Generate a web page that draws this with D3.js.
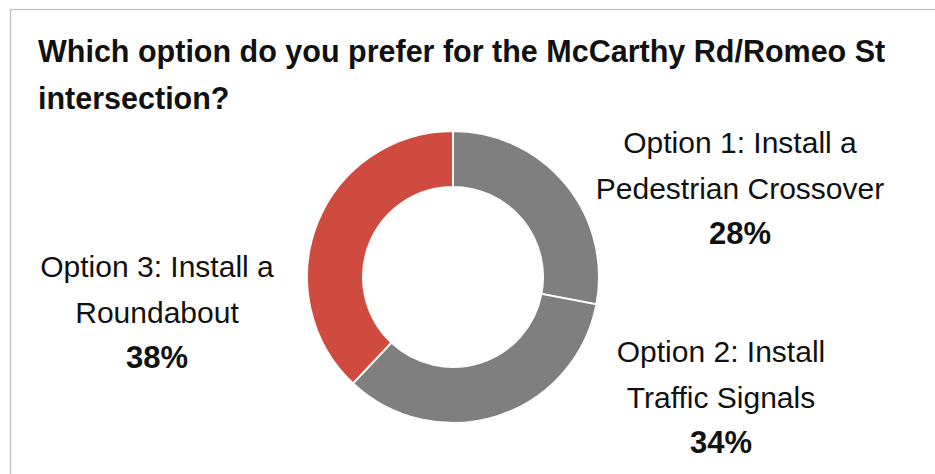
<!DOCTYPE html>
<html>
<head>
<meta charset="utf-8">
<script src="https://cdn.jsdelivr.net/npm/d3@7"></script>
<style>
  html, body { margin: 0; padding: 0; background: #fff; }
  svg { display: block; }
  text { font-family: "Liberation Sans", Arial, sans-serif; fill: #111; }
</style>
</head>
<body>
<svg id="chart" width="935" height="474"></svg>
<script>
const titleLines = ["Which option do you prefer for the McCarthy Rd/Romeo St", "intersection?"];
const categories = ["Option 1: Install a Pedestrian Crossover", "Option 2: Install Traffic Signals", "Option 3: Install a Roundabout"];
const labelLines = [["Option 1: Install a", "Pedestrian Crossover"], ["Option 2: Install", "Traffic Signals"], ["Option 3: Install a", "Roundabout"]];
const values = [28, 34, 38];
const colors = ["#7f7f7f", "#7f7f7f", "#cf4b3f"];

const svg = d3.select("#chart");
const W = 935, H = 474;

// frame
svg.append("rect").attr("x", 10.5).attr("y", 9.5).attr("width", W).attr("height", H)
  .attr("fill", "none").attr("stroke", "#bdbdbd").attr("stroke-width", 1.2);

// title
svg.append("g").selectAll("text").data(titleLines).join("text")
  .attr("x", 38).attr("y", (d, i) => 62 + i * 47)
  .attr("font-size", 30.5).attr("font-weight", "bold")
  .text(d => d);

// donut
const cx = 453, cy = 277, rOuter = 146, rInner = 90;
const pie = d3.pie().sort(null).value(d => d)(values);
const arc = d3.arc().innerRadius(rInner).outerRadius(rOuter);
const g = svg.append("g").attr("transform", `translate(${cx},${cy})`);
g.selectAll("path").data(pie).join("path")
  .attr("d", arc)
  .attr("fill", (d, i) => colors[i])
  .attr("stroke", "#fff").attr("stroke-width", 2);

// labels
const labelPos = [{x: 740, y: 153}, {x: 721, y: 362}, {x: 157, y: 277}];
const lineH = 45.5;
labelPos.forEach((p, i) => {
  const lg = svg.append("g");
  labelLines[i].forEach((t, j) => {
    lg.append("text").attr("x", p.x).attr("y", p.y + j * lineH)
      .attr("text-anchor", "middle").attr("font-size", 30).text(t);
  });
  lg.append("text").attr("x", p.x).attr("y", p.y + 2 * lineH)
    .attr("text-anchor", "middle").attr("font-size", 31).attr("font-weight", "bold")
    .text(d3.format(".0f")(values[i]) + "%");
});
</script>
</body>
</html>
